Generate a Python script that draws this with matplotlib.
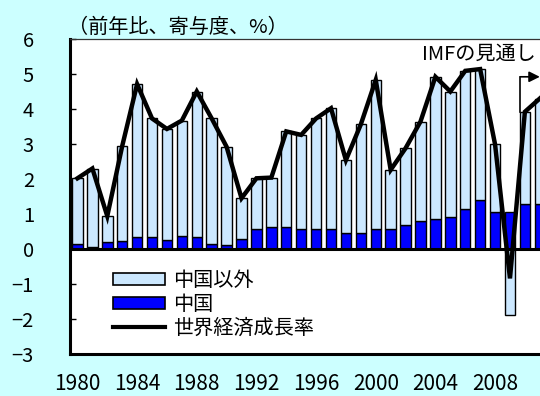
import matplotlib
matplotlib.use("Agg")
import matplotlib.pyplot as plt
from matplotlib.patches import Patch
from matplotlib.lines import Line2D
import numpy as np

plt.rcParams['font.family'] = ['Noto Sans CJK JP', 'DejaVu Sans']

# World GDP growth and China's contribution (% points), 1980-2011
years = list(range(1980, 2012))
world_growth = [2.02, 2.30, 0.94, 2.94, 4.71, 3.73, 3.43, 3.67, 4.50, 3.73,
                2.92, 1.45, 2.02, 2.04, 3.36, 3.26, 3.73, 4.02, 2.54, 3.56,
                4.83, 2.26, 2.88, 3.64, 4.92, 4.50, 5.09, 5.14, 2.99, -0.84,
                3.92, 4.30]
china_contrib = [0.13, 0.07, 0.19, 0.24, 0.35, 0.35, 0.25, 0.36, 0.35, 0.14,
                 0.12, 0.30, 0.58, 0.64, 0.64, 0.57, 0.57, 0.57, 0.47, 0.47,
                 0.57, 0.56, 0.70, 0.80, 0.87, 0.92, 1.15, 1.39, 1.05, 1.05,
                 1.28, 1.28]

x_tick_years = [1980, 1984, 1988, 1992, 1996, 2000, 2004, 2008]
x_tick_labels = ['1980', '1984', '1988', '1992', '1996', '2000', '2004', '2008']
y_ticks = [-3, -2, -1, 0, 1, 2, 3, 4, 5, 6]
y_tick_labels = ['−3', '−2', '−1', '0', '1', '2', '3', '4', '5', '6']

series_names = ['中国以外', '中国', '世界経済成長率']
title_text = '（前年比、寄与度、%）'
forecast_text = 'IMFの見通し'
forecast_start = 2010

LIGHT = '#CCE8FF'
BLUE = '#0000FF'
BG = '#CCFFFF'

world = np.array(world_growth)
china = np.array(china_contrib)
others = world - china
others_bottom = np.where(others >= 0, china, 0.0)

fig = plt.figure(figsize=(5.4, 3.96), dpi=100, facecolor=BG)
ax = fig.add_axes([70 / 540, 42 / 396, 522 / 540, 315 / 396])
ax.set_facecolor('white')

bar_w = 0.7
ax.bar(years, china, width=bar_w, color=BLUE, edgecolor='black', linewidth=1.0, zorder=2)
ax.bar(years, others, bottom=others_bottom, width=bar_w, color=LIGHT,
       edgecolor='black', linewidth=1.0, zorder=2)
ax.axhline(0, color='black', linewidth=2.2, zorder=3)
ax.plot(years, world, color='black', linewidth=3.2, solid_joinstyle='miter', zorder=4)

ax.set_xlim(1979.5, 2014.5)
ax.set_ylim(-3, 6)
ax.set_yticks(y_ticks)
ax.set_yticklabels(y_tick_labels, fontsize=14.5)
ax.set_xticks(x_tick_years)
ax.set_xticklabels(x_tick_labels, fontsize=15)
ax.tick_params(axis='y', direction='in', length=4, width=1, pad=26)
ax.tick_params(axis='x', length=0, pad=14)

for side in ['left', 'bottom']:
    ax.spines[side].set_linewidth(2.2)
    ax.spines[side].set_color('black')
ax.spines['top'].set_linewidth(0.9)
ax.spines['top'].set_color('#333333')
ax.spines['right'].set_visible(False)

# forecast marker
top_y = 4.92
ax.plot([forecast_start - 0.3, forecast_start - 0.3], [world[years.index(forecast_start)], top_y],
        color='black', linewidth=1.2, zorder=5)
ax.annotate('', xy=(forecast_start + 1.0, top_y), xytext=(forecast_start - 0.3, top_y),
            arrowprops=dict(arrowstyle='-|>', color='black', lw=1.2, mutation_scale=16,
                            shrinkA=0, shrinkB=0), zorder=5)
ax.text(2003.1, 5.55, forecast_text, fontsize=14.5, va='center', ha='left', zorder=5)

handles = [Patch(facecolor=LIGHT, edgecolor='black', linewidth=1.2),
           Patch(facecolor=BLUE, edgecolor='black', linewidth=1.2),
           Line2D([0], [0], color='black', linewidth=3)]
fig.legend(handles, series_names, loc='upper left', bbox_to_anchor=(113 / 540, 1 - 270 / 396),
           frameon=False, fontsize=14.5, handlelength=2.6, handleheight=0.55,
           handletextpad=0.4, labelspacing=0.15, borderpad=0, borderaxespad=0)

fig.text(68 / 540, 1 - 27 / 396, title_text, fontsize=14.5, va='center', ha='left')

fig.savefig('out.png', dpi=100, facecolor=BG)
